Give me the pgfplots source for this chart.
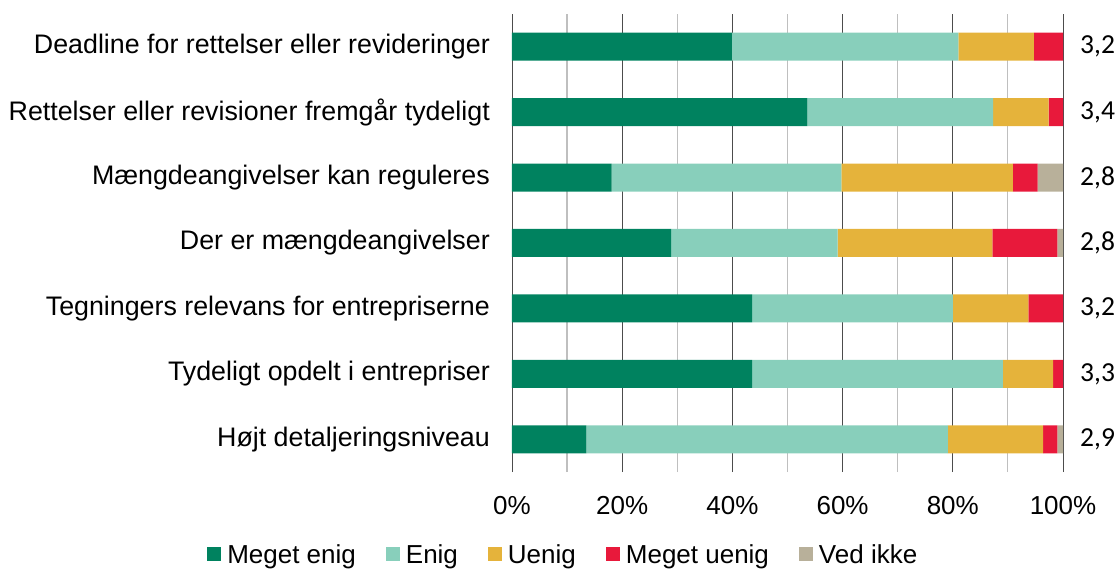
\documentclass[border=0pt]{standalone}
\usepackage{pgfplots}
\pgfplotsset{compat=1.18}
\usepackage{fontspec}
\setmainfont{Liberation Sans}
\newfontfamily\calibri{Carlito}
\definecolor{cA}{HTML}{00825F}
\definecolor{cB}{HTML}{88CFBB}
\definecolor{cC}{HTML}{E5B33B}
\definecolor{cD}{HTML}{E8193B}
\definecolor{cE}{HTML}{B8B09A}
\tikzset{rl/.style={anchor=west, inner sep=0pt, xshift=17bp, font=\calibri\fontsize{27.5bp}{31bp}\selectfont}}
\begin{document}
\begin{tikzpicture}
\begin{axis}[
  at={(0,0)}, anchor=south west,
  scale only axis, width=551bp, height=458bp,
  clip=false,
  xbar stacked, bar width=28bp,
  xmin=0, xmax=100, ymin=0.5, ymax=7.5,
  ytick={1,...,7},
  yticklabels={Højt detaljeringsniveau, Tydeligt opdelt i entrepriser, Tegningers relevans for entrepriserne, Der er mængdeangivelser, Mængdeangivelser kan reguleres, Rettelser eller revisioner fremgår tydeligt, Deadline for rettelser eller revideringer},
  xtick={0,20,...,100}, xticklabels={0\%,20\%,40\%,60\%,80\%,100\%},
  minor xtick={10,30,50,70,90},
  xmajorgrids, xminorgrids,
  major grid style={draw=black!70, line width=0.8bp},
  minor grid style={draw=black!25, line width=1.2bp},
  axis line style={draw=none},
  major tick length=0pt, minor tick length=0pt,
  tick style={draw=none},
  xticklabel style={font=\fontsize{26bp}{30bp}\selectfont, anchor=base, inner sep=0pt, yshift=-42bp},
  yticklabel style={font=\fontsize{26.8bp}{30bp}\selectfont, anchor=east, inner sep=0pt, xshift=-22bp},
  legend style={at={(axis description cs:0.094,-0.181)}, anchor=center, draw=none,
    font=\fontsize{26bp}{30bp}\selectfont, inner sep=0pt,
    nodes={inner sep=3bp},
    /tikz/every odd column/.append style={column sep=3bp},
    /tikz/every even column/.append style={column sep=27bp}},
  legend columns=5,
  legend image code/.code={\fill[#1] (0bp,-6bp) rectangle (14bp,8bp);},
]
\addplot[fill=cA, draw=none] coordinates {(13.5,1) (43.6,2) (43.6,3) (28.9,4) (18.1,5) (53.6,6) (39.9,7)};
\addplot[fill=cB, draw=none] coordinates {(65.6,1) (45.5,2) (36.4,3) (30.2,4) (41.7,5) (33.7,6) (41.1,7)};
\addplot[fill=cC, draw=none] coordinates {(17.3,1) (9.1,2) (13.7,3) (28.1,4) (31.1,5) (10.1,6) (13.7,7)};
\addplot[fill=cD, draw=none] coordinates {(2.6,1) (1.8,2) (6.3,3) (11.8,4) (4.5,5) (2.6,6) (5.3,7)};
\addplot[fill=cE, draw=none] coordinates {(1.0,1) (0,2) (0,3) (1.0,4) (4.6,5) (0,6) (0,7)};
\legend{Meget enig, Enig, Uenig, Meget uenig, Ved ikke}
\node[rl] at (axis cs:100,7) {3,2};
\node[rl] at (axis cs:100,6) {3,4};
\node[rl] at (axis cs:100,5) {2,8};
\node[rl] at (axis cs:100,4) {2,8};
\node[rl] at (axis cs:100,3) {3,2};
\node[rl] at (axis cs:100,2) {3,3};
\node[rl] at (axis cs:100,1) {2,9};
\end{axis}
\pgfresetboundingbox
\path[use as bounding box] (-512bp,-99bp) rectangle (604bp,472bp);
\end{tikzpicture}
\end{document}
